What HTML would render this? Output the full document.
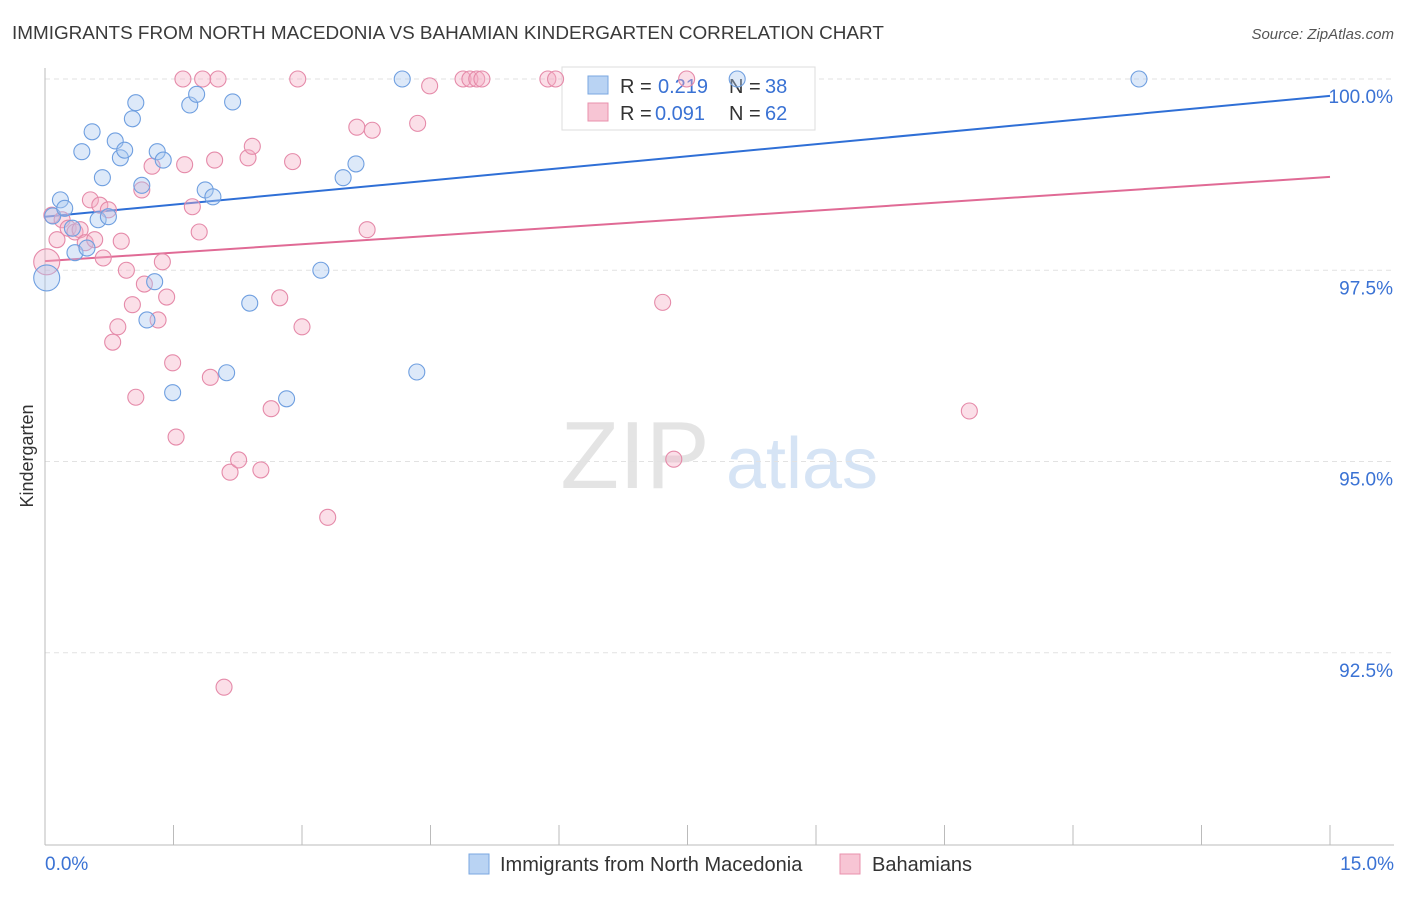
<!DOCTYPE html>
<html><head><meta charset="utf-8">
<style>
body{margin:0;background:#fff;font-family:"Liberation Sans",sans-serif;}
svg text{font-family:"Liberation Sans",sans-serif;}
</style></head>
<body>
<svg id="chart" width="1406" height="892" viewBox="0 0 1406 892" xmlns="http://www.w3.org/2000/svg">
<text x="12" y="39" font-size="18.9" fill="#3a3a3a">IMMIGRANTS FROM NORTH MACEDONIA VS BAHAMIAN KINDERGARTEN CORRELATION CHART</text>
<text x="1394" y="39" font-size="15" fill="#555" text-anchor="end" font-style="italic">Source: ZipAtlas.com</text>
<text transform="translate(33,456) rotate(-90)" font-size="18" fill="#333" text-anchor="middle">Kindergarten</text>
<g>
<text x="635" y="488" font-size="96" fill="#e4e4e4" text-anchor="middle" font-family="Liberation Serif, serif">ZIP</text>
<text x="802" y="488" font-size="72" fill="#d6e4f5" text-anchor="middle">atlas</text>
</g>
<g id="grid"></g>
<g id="axes"></g>
<g>
<rect x="562" y="67" width="253" height="63" fill="#fff" stroke="#ddd"/>
<rect x="588" y="76" width="20" height="18" fill="#b9d3f3" stroke="#7aa7e0"/>
<text x="620" y="93" font-size="20" fill="#333">R =</text>
<text x="658" y="93" font-size="20" fill="#3a72d4">0.219</text>
<text x="729" y="93" font-size="20" fill="#333">N =</text>
<text x="765" y="93" font-size="20" fill="#3a72d4">38</text>
<rect x="588" y="103" width="20" height="18" fill="#f7c5d4" stroke="#e891ad"/>
<text x="620" y="120" font-size="20" fill="#333">R =</text>
<text x="655" y="120" font-size="20" fill="#3a72d4">0.091</text>
<text x="729" y="120" font-size="20" fill="#333">N =</text>
<text x="765" y="120" font-size="20" fill="#3a72d4">62</text>
</g>
<g id="trends"></g>
<g id="points"></g>
<g>
<rect x="469" y="854" width="20" height="20" fill="#b9d3f3" stroke="#7aa7e0"/>
<text x="500" y="871" font-size="20" fill="#333">Immigrants from North Macedonia</text>
<rect x="840" y="854" width="20" height="20" fill="#f7c5d4" stroke="#e891ad"/>
<text x="872" y="871" font-size="20" fill="#333">Bahamians</text>
</g>
</svg>
<script>
const xTicks=[0,1.5,3,4.5,6,7.5,9,10.5,12,13.5,15];
const yTicks=[100,97.5,95,92.5];
const yTickLabels=["100.0%","97.5%","95.0%","92.5%"];
const blueX=[0.02,0.09,0.18,0.23,0.32,0.35,0.43,0.49,0.55,0.62,0.67,0.74,0.82,0.88,0.93,1.02,1.06,1.13,1.19,1.28,1.31,1.38,1.49,1.69,1.77,1.87,1.96,2.12,2.19,2.39,2.82,3.22,3.48,3.63,4.17,4.34,8.08,12.77];
const blueY=[97.40,98.21,98.42,98.31,98.05,97.73,99.05,97.79,99.31,98.16,98.71,98.20,99.19,98.97,99.07,99.48,99.69,98.61,96.85,97.35,99.05,98.94,95.90,99.66,99.80,98.55,98.46,96.16,99.70,97.07,95.82,97.50,98.71,98.89,100,96.17,100,100];
const pinkX=[0.02,0.08,0.14,0.20,0.27,0.35,0.41,0.47,0.53,0.58,0.64,0.68,0.74,0.79,0.85,0.89,0.95,1.02,1.06,1.13,1.16,1.25,1.32,1.37,1.42,1.49,1.53,1.61,1.63,1.72,1.80,1.84,1.93,1.98,2.02,2.09,2.16,2.26,2.37,2.42,2.52,2.64,2.74,2.89,2.95,3.00,3.30,3.64,3.76,3.82,4.35,4.49,4.88,4.96,5.04,5.10,5.87,5.96,7.21,7.34,7.49,10.79];
const pinkY=[97.61,98.22,97.90,98.16,98.05,98.00,98.03,97.86,98.42,97.90,98.35,97.66,98.29,96.56,96.76,97.88,97.50,97.05,95.84,98.55,97.32,98.86,96.85,97.61,97.15,96.29,95.32,100,98.88,98.33,98.00,100,96.10,98.94,100,92.05,94.86,95.02,98.97,99.12,94.89,95.69,97.14,98.92,100,96.76,94.27,99.37,98.03,99.33,99.42,99.91,100,100,100,100,100,100,97.08,95.03,100,95.66];
const blueTrend=[98.20,99.78];
const pinkTrend=[97.62,98.72];
const NS="http://www.w3.org/2000/svg";
const X=v=>45+v/15*1285;
const Y=v=>79+(100-v)*76.5;
function mk(tag,attrs,parent){const e=document.createElementNS(NS,tag);for(const k in attrs)e.setAttribute(k,attrs[k]);parent.appendChild(e);return e;}
const grid=document.getElementById('grid'),axes=document.getElementById('axes'),trends=document.getElementById('trends'),pts=document.getElementById('points');
yTicks.forEach((t,i)=>{
 const l=mk('line',{x1:45,x2:1394,y1:Y(t),y2:Y(t),stroke:'#e2e2e2','stroke-dasharray':'5,4'},grid);
 
 
 const tx=mk('text',{x:1393,y:Y(t)+24,'font-size':19,fill:'#3a72d4','text-anchor':'end'},axes);
 tx.textContent=yTickLabels[i];
 
 
});
const xa=mk('line',{x1:45,x2:1394,y1:845,y2:845,stroke:'#bbb'},axes);


const ya=mk('line',{x1:45,x2:45,y1:68,y2:845,stroke:'#bbb'},axes);


xTicks.forEach(t=>{
 const l=mk('line',{x1:X(t),x2:X(t),y1:825,y2:845,stroke:'#bbb'},axes);
 
 
});
const xl0=mk('text',{x:45,y:870,'font-size':19,fill:'#3a72d4'},axes);xl0.textContent='0.0%';


const xl1=mk('text',{x:1394,y:870,'font-size':19,fill:'#3a72d4','text-anchor':'end'},axes);xl1.textContent='15.0%';


function drawPts(xs,ys,fill,stroke,name){
 xs.forEach((x,i)=>{
  const big=(i===0);
  const c=mk('circle',{cx:X(x),cy:Y(ys[i]),r:big?13:8,fill:fill,'fill-opacity':0.4,stroke:stroke,'stroke-width':1.1},pts);
  
  
 });
}
drawPts(pinkX,pinkY,'#f4b0c6','#e58aa9','point-bahamians');
drawPts(blueX,blueY,'#a9c7ef','#6f9fe0','point-macedonia');
const bt=mk('line',{x1:X(0),y1:Y(blueTrend[0]),x2:X(15),y2:Y(blueTrend[1]),stroke:'#2f6fd6','stroke-width':2},trends);


const pt=mk('line',{x1:X(0),y1:Y(pinkTrend[0]),x2:X(15),y2:Y(pinkTrend[1]),stroke:'#e06a95','stroke-width':2},trends);


</script>
</body></html>
